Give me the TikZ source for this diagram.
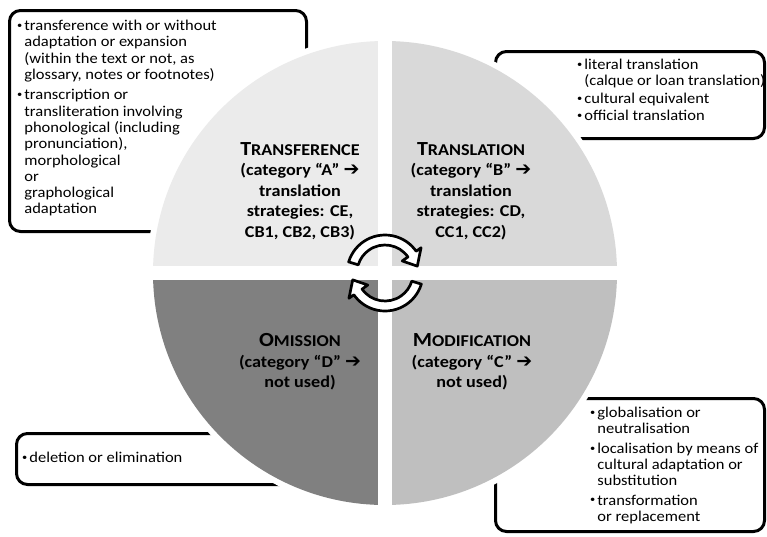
\documentclass[tikz,border=0pt]{standalone}
\usepackage{fontspec}
\setmainfont{Carlito}[FakeStretch=1.1]
\newfontfamily\arrowfont{DejaVu Sans}
\usetikzlibrary{positioning}

\definecolor{quadA}{gray}{0.92}
\definecolor{quadB}{gray}{0.85}
\definecolor{quadC}{gray}{0.75}
\definecolor{quadD}{gray}{0.50}

\newcommand{\bul}{\raisebox{0.3ex}{\fontsize{9.5}{9.5}\selectfont\textbullet}}
\newcommand{\catarrow}{{\arrowfont\bfseries\fontsize{19}{19}\selectfont ➔}}
\newcommand{\capsname}[2]{{\fontsize{20}{20}\selectfont #1}{\fontsize{16.5}{16.5}\selectfont #2}}

\begin{document}
\begin{tikzpicture}[
    x=1pt, y=1pt,
    callout/.style={
        rectangle, draw=black, line width=3pt, rounded corners=11pt,
        fill=white, inner sep=0pt
    },
    bullets/.style={
        inner sep=0pt, align=left,
        font=\fontsize{15}{16.3}\selectfont
    },
    catlabel/.style={
        inner sep=0pt, align=center,
        font=\bfseries\fontsize{16.5}{20.5}\selectfont
    },
    swirl/.style={draw=black, fill=white, line width=2.7pt, line join=round},
]
\useasboundingbox (0,0) rectangle (767,-536);

% Callout boxes (behind the circle)
\node[callout, anchor=north west, minimum width=297pt, minimum height=221pt] (boxA) at (8,-9) {};
\node[callout, anchor=north west, minimum width=269pt, minimum height=87pt] (boxB) at (494,-50) {};
\node[callout, anchor=north west, minimum width=269pt, minimum height=133pt] (boxC) at (494,-397) {};
\node[callout, anchor=north west, minimum width=310pt, minimum height=51pt] (boxD) at (15,-432) {};

% Box texts
\node[bullets, below right=10pt and 9pt of boxA.north west] (listA) {%
\begin{tabular}{@{}l@{\hspace{2pt}}l@{}}
\bul & transference with or without\\
     & adaptation or expansion\\
     & (within the text or not,\ as\\
     & glossary, notes or footnotes)\\[4pt]
\bul & transcription or\\
     & transliteration involving\\
     & phonological (including\\
     & pronunciation),\\
     & morphological\\
     & or\\
     & graphological\\
     & adaptation
\end{tabular}};
\node[bullets, below right=8pt and 83pt of boxB.north west] (listB) {%
\begin{tabular}{@{}l@{\hspace{2pt}}l@{}}
\bul & literal translation\\
     & (calque or loan translation)\\[1pt]
\bul & cultural equivalent\\[1pt]
\bul & official translation
\end{tabular}};
\node[bullets, below right=9pt and 96pt of boxC.north west] (listC) {%
\begin{tabular}{@{}l@{\hspace{2pt}}l@{}}
\bul & globalisation or\\
     & neutralisation\\[3pt]
\bul & localisation by means of\\
     & cultural adaptation or\\
     & substitution\\[3pt]
\bul & transformation\\
     & or replacement
\end{tabular}};
\node[bullets, right=7pt of boxD.west, anchor=west] (listD) {%
\begin{tabular}{@{}l@{\hspace{2pt}}l@{}}
\bul & deletion or elimination
\end{tabular}};

% Circle with four quadrants
\coordinate (c) at (385,-273);
\fill[white] (c) circle (238pt);
\fill[quadA] (c) -- +(90:232) arc[start angle=90, end angle=180, radius=232pt] -- cycle;
\fill[quadB] (c) -- +(0:232) arc[start angle=0, end angle=90, radius=232pt] -- cycle;
\fill[quadD] (c) -- +(180:232) arc[start angle=180, end angle=270, radius=232pt] -- cycle;
\fill[quadC] (c) -- +(270:232) arc[start angle=270, end angle=360, radius=232pt] -- cycle;
\draw[white, line width=14pt] ([xshift=-233pt]c) -- ([xshift=233pt]c);
\draw[white, line width=14pt] ([yshift=-233pt]c) -- ([yshift=233pt]c);

% Category labels
\node[catlabel] (transference) at (300,-191) {\capsname{T}{RANSFERENCE}\\(category “A” \catarrow\\translation\\strategies: CE,\\CB1, CB2, CB3)};
\node[catlabel] (translation) at (471,-191) {\capsname{T}{RANSLATION}\\(category “B” \catarrow\\translation\\strategies: CD,\\CC1, CC2)};
\node[catlabel] (omission) at (300,-362) {\capsname{O}{MISSION}\\(category “D” \catarrow\\not used)};
\node[catlabel] (modification) at (472,-362) {\capsname{M}{ODIFICATION}\\(category “C” \catarrow\\not used)};

% Circular arrows in the middle
\draw[swirl] ([shift={(163:38)}]c) arc[start angle=163, end angle=35, radius=38pt]
    -- ([shift={(35:44)}]c) -- ([shift={(12:33)}]c) -- ([shift={(35:21)}]c)
    -- ([shift={(35:28)}]c) arc[start angle=35, end angle=163, radius=28pt] -- cycle;
\draw[swirl] ([shift={(-17:38)}]c) arc[start angle=-17, end angle=-145, radius=38pt]
    -- ([shift={(-145:44)}]c) -- ([shift={(-168:33)}]c) -- ([shift={(-145:21)}]c)
    -- ([shift={(-145:28)}]c) arc[start angle=-145, end angle=-17, radius=28pt] -- cycle;

\end{tikzpicture}
\end{document}
